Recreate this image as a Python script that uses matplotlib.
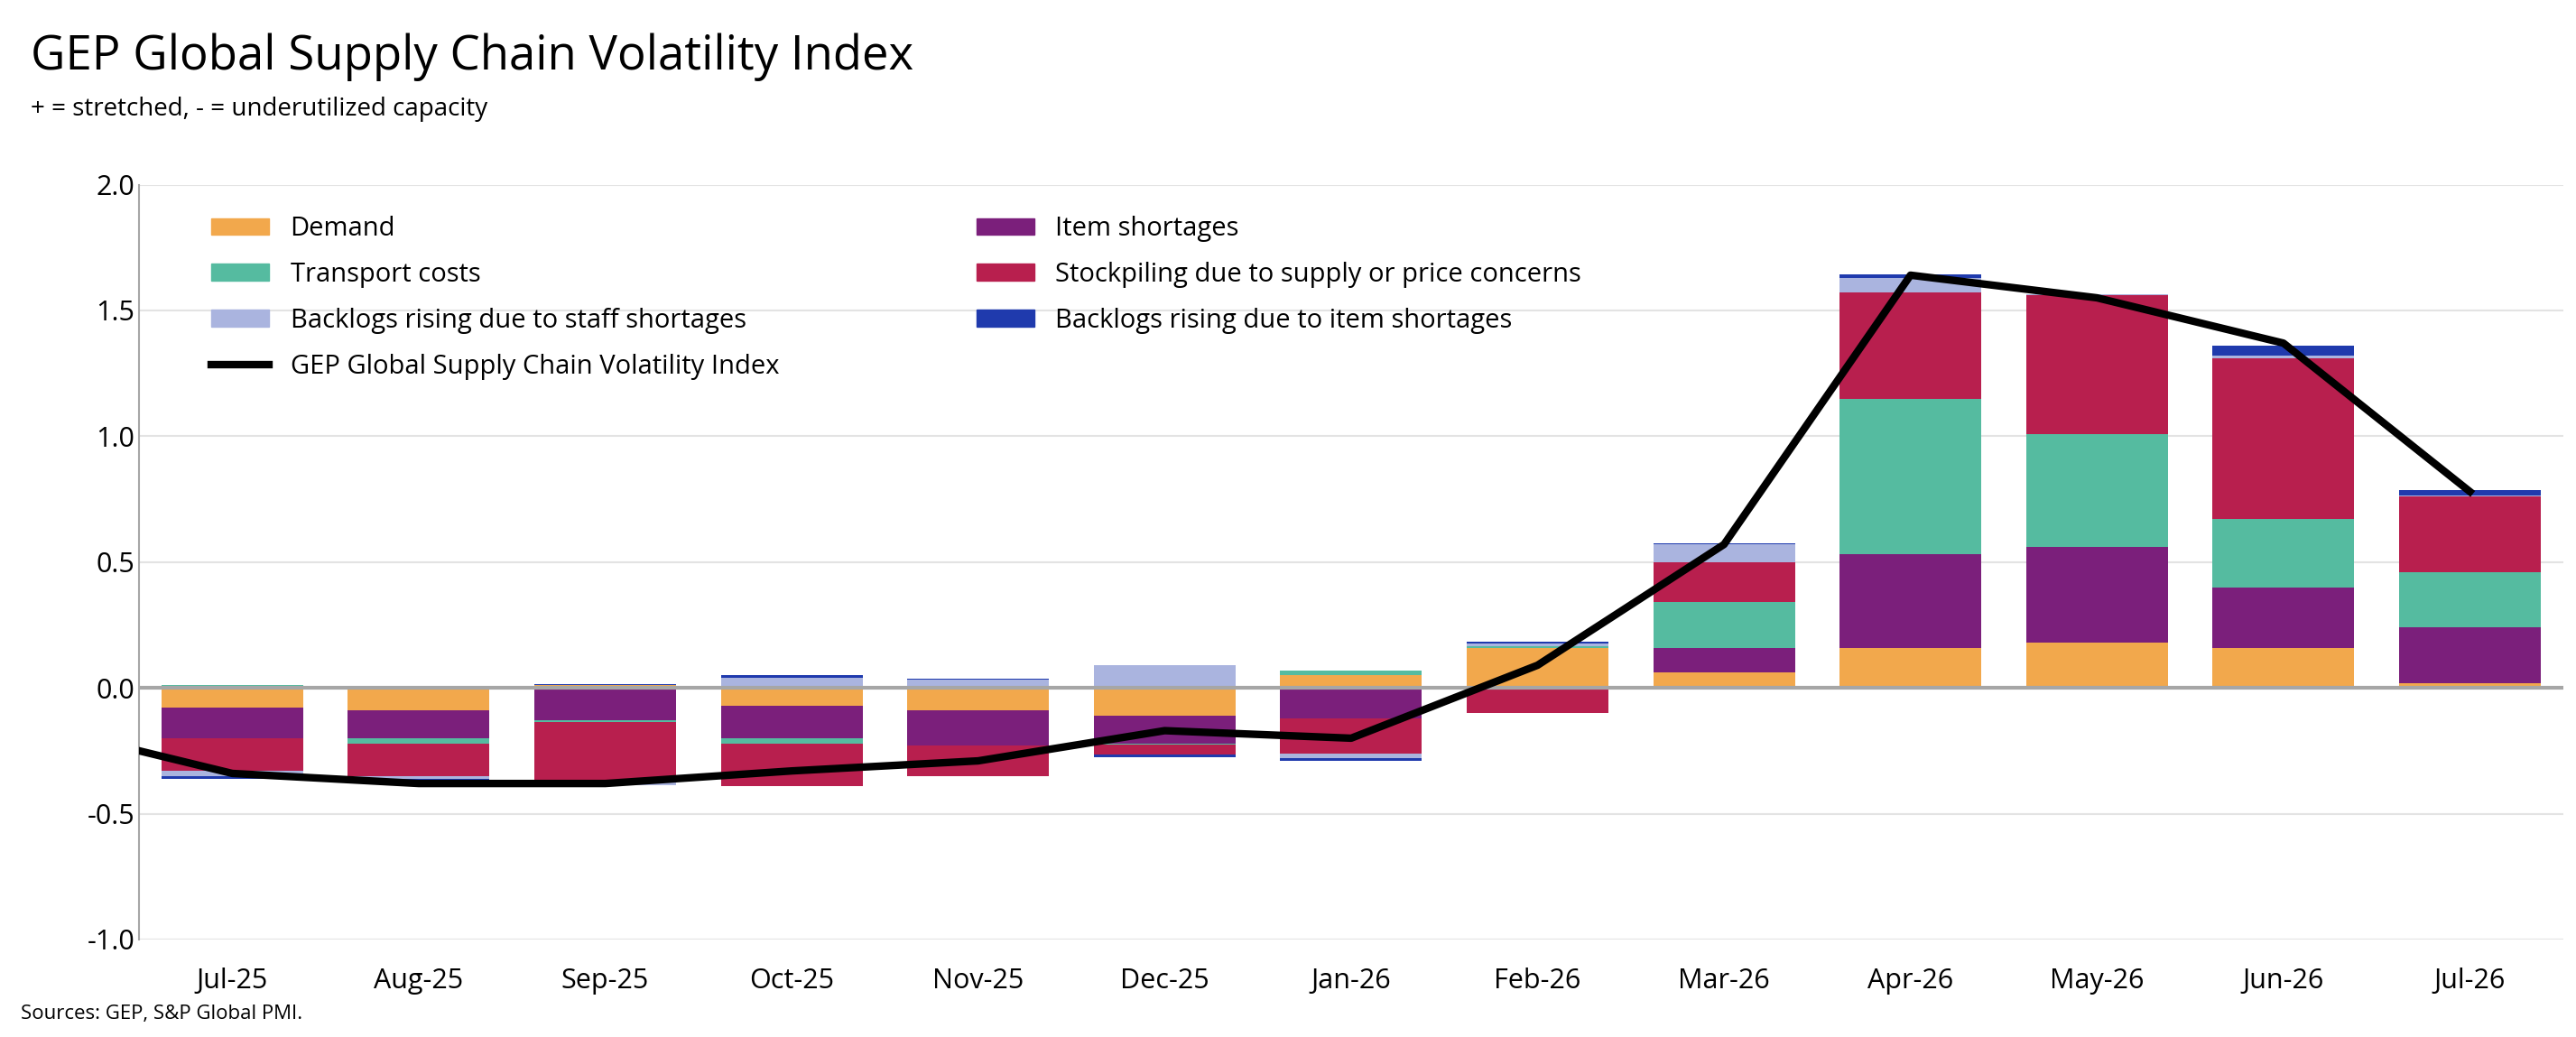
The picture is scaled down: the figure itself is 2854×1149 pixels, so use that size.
import numpy as np
import matplotlib.pyplot as plt
from matplotlib.lines import Line2D
from matplotlib.patches import Patch

plt.rcParams['font.family'] = ['Open Sans', 'DejaVu Sans']

months = ['Jul-25', 'Aug-25', 'Sep-25', 'Oct-25', 'Nov-25', 'Dec-25', 'Jan-26',
          'Feb-26', 'Mar-26', 'Apr-26', 'May-26', 'Jun-26', 'Jul-26']

demand = [-0.08, -0.09, 0.01, -0.07, -0.09, -0.11, 0.05, 0.16, 0.06, 0.16, 0.18, 0.16, 0.02]
item_short = [-0.12, -0.11, -0.13, -0.13, -0.14, -0.11, -0.12, 0.0, 0.10, 0.37, 0.38, 0.24, 0.22]
transport = [0.01, -0.02, -0.005, -0.02, 0.003, -0.005, 0.02, 0.005, 0.18, 0.62, 0.45, 0.27, 0.22]
stockpile = [-0.13, -0.13, -0.24, -0.17, -0.12, -0.04, -0.14, -0.10, 0.16, 0.42, 0.55, 0.64, 0.30]
backlog_staff = [-0.02, -0.01, -0.01, 0.04, 0.03, 0.09, -0.02, 0.01, 0.07, 0.06, 0.005, 0.01, 0.005]
backlog_item = [-0.01, -0.01, 0.005, 0.01, 0.005, -0.01, -0.01, 0.01, 0.005, 0.015, -0.005, 0.04, 0.02]

# indice, con el mes anterior (Jun-25) para que la linea entre desde el borde
index_prev = -0.16
index_vals = [-0.34, -0.38, -0.38, -0.33, -0.29, -0.17, -0.20, 0.09, 0.57, 1.64, 1.55, 1.37, 0.78]

series = [
    ('Demand', demand, '#F2A84C'),
    ('Item shortages', item_short, '#7B1F7B'),
    ('Transport costs', transport, '#55BBA0'),
    ('Stockpiling due to supply or price concerns', stockpile, '#B81F4E'),
    ('Backlogs rising due to staff shortages', backlog_staff, '#AAB4DF'),
    ('Backlogs rising due to item shortages', backlog_item, '#1F3AAD'),
]

fig = plt.figure(figsize=(28.54, 11.49), dpi=100)
ax = fig.add_axes([0.054, 0.094, 0.941, 0.728])

x = np.arange(len(months))
pos = np.zeros(len(months))
neg = np.zeros(len(months))
for name, vals, col in series:
    v = np.array(vals)
    bottom = np.where(v >= 0, pos, neg)
    ax.bar(x, v, 0.76, bottom=bottom, color=col, zorder=2)
    pos = pos + np.where(v >= 0, v, 0)
    neg = neg + np.where(v < 0, v, 0)

ax.plot(np.arange(-1, len(months)), [index_prev] + index_vals, color='black', lw=6, zorder=3)

ax.set_xlim(-0.5, len(months) - 0.5)
ax.set_ylim(-1.0, 2.0)
ax.set_yticks(np.arange(-1.0, 2.01, 0.5))
ax.set_yticklabels([f'{t:.1f}' for t in np.arange(-1.0, 2.01, 0.5)])
ax.set_xticks(x)
ax.set_xticklabels(months)
ax.tick_params(axis='both', labelsize=22, length=0)
ax.tick_params(axis='x', pad=22)
ax.grid(axis='y', color='#E3E3E3', lw=1.5, zorder=0)
ax.axhline(0, color='#A6A6A6', lw=3, zorder=2.5)
for s in ['top', 'right', 'bottom']:
    ax.spines[s].set_visible(False)
ax.spines['left'].set_color('#A6A6A6')
ax.spines['left'].set_linewidth(1.5)

handles = [Patch(color=series[0][2], label=series[0][0]),
           Patch(color=series[2][2], label=series[2][0]),
           Patch(color=series[4][2], label=series[4][0]),
           Line2D([], [], color='black', lw=6, label='GEP Global Supply Chain Volatility Index'),
           Patch(color=series[1][2], label=series[1][0]),
           Patch(color=series[3][2], label=series[3][0]),
           Patch(color=series[5][2], label=series[5][0])]
ax.legend(handles=handles, ncol=2, loc='upper left', bbox_to_anchor=(0.02, 0.99),
          frameon=False, fontsize=21, columnspacing=7.5, handlelength=2.2,
          handleheight=0.6, labelspacing=0.75)

fig.text(0.012, 0.945, 'GEP Global Supply Chain Volatility Index', fontsize=38, va='center')
fig.text(0.012, 0.895, '+ = stretched, - = underutilized capacity', fontsize=20, va='center')
fig.text(0.008, 0.022, 'Sources: GEP, S&P Global PMI.', fontsize=16, va='center')

fig.savefig('out.png', dpi=100)
